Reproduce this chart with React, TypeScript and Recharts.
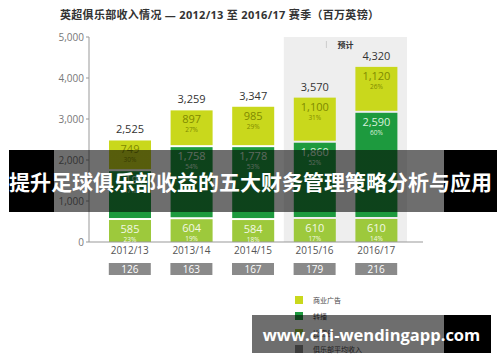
import React from 'react';
import { BarChart, Bar, XAxis, YAxis, LabelList, ReferenceArea } from 'recharts';

// 英超俱乐部收入 (百万英镑)
const categories = ['2012/13', '2013/14', '2014/15', '2015/16', '2016/17'];
const matchday = [585, 604, 584, 610, 610];
const broadcast = [1191, 1758, 1778, 1860, 2590];
const commercial = [749, 897, 985, 1100, 1120];
const totals = [2525, 3259, 3347, 3570, 4320];
const matchdayPct = ['23%', '19%', '18%', '17%', '14%'];
const broadcastPct = ['47%', '54%', '53%', '52%', '60%'];
const commercialPct = ['30%', '27%', '29%', '31%', '26%'];
const avgRevenue = [126, 163, 167, 179, 216];
const yTicks = [0, 1000, 2000, 3000, 4000, 5000];

const legendItems = [
  { name: '商业广告', color: '#c9d81c' },
  { name: '转播', color: '#1d9a3e' },
  { name: '比赛日', color: '#9dc93c' },
  { name: '俱乐部平均收入', color: '#8a8a8a' },
];

const FONT = "'Open Sans', 'Noto Sans CJK SC', sans-serif";

const data = categories.map((c, i) => ({
  name: c,
  matchday: matchday[i],
  broadcast: broadcast[i],
  commercial: commercial[i],
  total: totals[i],
}));

const fmt = (v: number) => v.toLocaleString('en-US');

// leaves a thin white gap on top of each stacked segment
const GapRect = (props: any) => {
  const { x, y, width, height, fill } = props;
  if (!height || height <= 2) return null;
  return <rect x={x} y={y + 2} width={width} height={height - 2} fill={fill} />;
};

const segLabel = (pcts: string[], color: string) => (props: any) => {
  const { x, y, width, value, index } = props;
  const cx = x + width / 2;
  return (
    <g fontFamily={FONT}>
      <text x={cx} y={y + 15} textAnchor="middle" fontSize={11} fill={color}>
        {fmt(value)}
      </text>
      <text x={cx} y={y + 24} textAnchor="middle" fontSize={6.5} fill={color}>
        {pcts[index]}
      </text>
    </g>
  );
};

const totalLabel = (props: any) => {
  const { x, y, width, value } = props;
  return (
    <text x={x + width / 2} y={y - 5} textAnchor="middle" fontSize={11} fill="#333" fontFamily={FONT}>
      {fmt(value)}
    </text>
  );
};

const CategoryTick = (props: any) => {
  const { x, y, payload, index } = props;
  return (
    <g fontFamily={FONT}>
      <text x={x} y={y + 12} textAnchor="middle" fontSize={10} fill="#555">
        {payload.value}
      </text>
      <rect x={x - 21} y={y + 21} width={42} height={12} fill="#8a8a8a" />
      <text x={x} y={y + 31} textAnchor="middle" fontSize={10} fill="#fff">
        {avgRevenue[index]}
      </text>
    </g>
  );
};

const ForecastLabel = (props: any) => {
  const { viewBox } = props;
  const cx = viewBox.x + viewBox.width / 2;
  return (
    <g>
      <line x1={cx - 19} x2={cx - 19} y1={viewBox.y + 4} y2={viewBox.y + 11} stroke="#ccc" strokeWidth={1} />
      <text x={cx} y={viewBox.y + 11} textAnchor="middle" fontSize={8} fontWeight="bold" fill="#333" fontFamily={FONT}>
        预计
      </text>
    </g>
  );
};

export default function App() {
  return (
    <div style={{ position: 'absolute', left: 0, top: 0, width: 500, height: 362, background: '#fff', overflow: 'hidden' }}>
      <div
        style={{
          position: 'absolute', left: 60, top: 6, fontSize: 11, letterSpacing: 0.3, fontWeight: 'bold',
          color: '#333', fontFamily: FONT, whiteSpace: 'nowrap',
        }}
      >
        英超俱乐部收入情况 — 2012/13 至 2016/17 赛季（百万英镑）
      </div>

      <BarChart
        width={500}
        height={362}
        data={data}
        margin={{ top: 37, right: 77, bottom: 90, left: 49 }}
        style={{ position: 'absolute', left: 0, top: 0 }}
      >
        <ReferenceArea
          x1="2015/16"
          x2="2016/17"
          y1={0}
          y2={5000}
          fill="#eeeeee"
          fillOpacity={1}
          stroke="none"
          ifOverflow="visible"
          label={<ForecastLabel />}
        />
        <XAxis
          dataKey="name"
          height={30}
          padding={{ left: 10, right: 16 }}
          tickLine={false}
          tickSize={0}
          tickMargin={0}
          axisLine={{ stroke: '#999' }}
          tick={<CategoryTick />}
          interval={0}
        />
        <YAxis
          width={40}
          domain={[0, 5000]}
          ticks={yTicks}
          tickFormatter={fmt}
          tickSize={3}
          tickLine={{ stroke: '#999' }}
          axisLine={{ stroke: '#999' }}
          tick={{ fontSize: 10, fill: '#777', fontFamily: FONT }}
        />
        <Bar dataKey="matchday" stackId="a" fill="#9dc93c" barSize={42} shape={<GapRect />} isAnimationActive={false}>
          <LabelList dataKey="matchday" content={segLabel(matchdayPct, '#f2f8e4')} />
        </Bar>
        <Bar dataKey="broadcast" stackId="a" fill="#1d9a3e" barSize={42} shape={<GapRect />} isAnimationActive={false}>
          <LabelList dataKey="broadcast" content={segLabel(broadcastPct, '#d8f0dc')} />
        </Bar>
        <Bar dataKey="commercial" stackId="a" fill="#c9d81c" barSize={42} shape={<GapRect />} isAnimationActive={false}>
          <LabelList dataKey="commercial" content={segLabel(commercialPct, '#7f8a00')} />
          <LabelList dataKey="total" content={totalLabel} />
        </Bar>
      </BarChart>

      <div style={{ position: 'absolute', left: 295, top: 292, fontFamily: FONT }}>
        {legendItems.map((it) => (
          <div key={it.name} style={{ display: 'flex', alignItems: 'center', height: 16.3 }}>
            <span style={{ width: 8, height: 8, background: it.color, display: 'inline-block' }} />
            <span style={{ marginLeft: 10, fontSize: 7, color: '#444' }}>{it.name}</span>
          </div>
        ))}
      </div>

      <div
        style={{
          position: 'absolute', left: 9, top: 150, width: 488, height: 62,
          background: 'linear-gradient(to right, #000 0px, #000 45px, rgba(0,0,0,0.57) 45px, rgba(0,0,0,0.57) 435px, #000 435px, #000 488px)',
          display: 'flex', alignItems: 'center', justifyContent: 'flex-start',
        }}
      >
        <span style={{ color: '#fff', fontSize: 21, fontWeight: 'bold', fontFamily: "'Noto Sans CJK SC', sans-serif", whiteSpace: 'nowrap' }}>
          提升足球俱乐部收益的五大财务管理策略分析与应用
        </span>
      </div>

      <div
        style={{
          position: 'absolute', left: 252, top: 315, width: 239, height: 38,
          background: 'linear-gradient(to right, rgba(0,0,0,0.57) 0px, rgba(0,0,0,0.57) 192px, #000 192px, #000 239px)',
          display: 'flex', alignItems: 'center', justifyContent: 'center',
        }}
      >
        <span style={{ color: '#fff', fontSize: 16.5, fontWeight: 'bold', fontFamily: "'Open Sans', sans-serif", whiteSpace: 'nowrap' }}>
          www.chi-wendingapp.com
        </span>
      </div>
    </div>
  );
}
